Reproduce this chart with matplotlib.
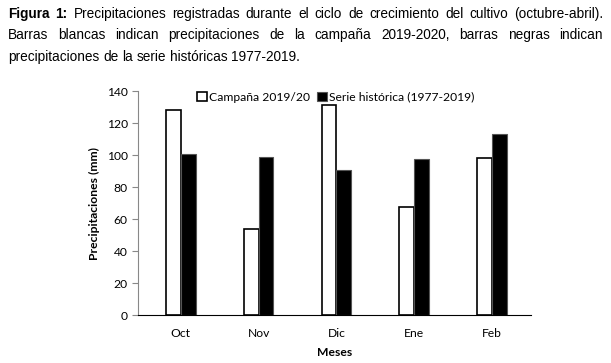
import matplotlib.pyplot as plt
import numpy as np

# Data
meses = ["Oct", "Nov", "Dic", "Ene", "Feb"]
campana = [128, 53.5, 131.5, 67.5, 98.5]
historica = [100.5, 99, 91, 97.5, 113]

caption_lines = [
    "Precipitaciones registradas durante el ciclo de crecimiento del cultivo (octubre-abril).",
    "Barras blancas indican precipitaciones de la campaña 2019-2020, barras negras indican",
    "precipitaciones de la serie históricas 1977-2019.",
]

fig = plt.figure(figsize=(6.11, 3.63), dpi=100)
ax = fig.add_axes([0.226, 0.132, 0.643, 0.617])

x = np.arange(len(meses))
w = 0.19
ax.bar(x - w / 2, campana, w, color="white", edgecolor="black", linewidth=1.2,
       label="Campaña 2019/20")
ax.bar(x + w / 2, historica, w, color="black", edgecolor="#555555", linewidth=0.8,
       label="Serie histórica (1977-2019)")

chart_font = "Lato"
fs = 8.7
ax.set_xlim(-0.55, 4.5)
ax.set_ylim(0, 140)
ax.set_yticks(range(0, 141, 20))
ax.set_xticks(x)
ax.set_xticklabels(meses, fontsize=fs, family=chart_font)
ax.tick_params(axis="x", length=0, pad=9)
ax.tick_params(axis="y", length=4, direction="out", color="#888888", labelsize=fs)
for t in ax.get_yticklabels():
    t.set_family(chart_font)
ax.spines["top"].set_visible(False)
ax.spines["right"].set_visible(False)
ax.spines["left"].set_color("#888888")
ax.spines["bottom"].set_color("black")
ax.set_ylabel("Precipitaciones (mm)", fontsize=fs, fontweight="bold", family=chart_font,
              labelpad=5)
ax.set_xlabel("Meses", fontsize=fs, fontweight="bold", family=chart_font, labelpad=6)

ax.legend(loc="center left", bbox_to_anchor=(0.15, 0.973), ncol=2, frameon=False,
          prop={"family": chart_font, "size": fs}, handlelength=0.8, handleheight=0.8,
          handletextpad=0.2, columnspacing=0.6, borderaxespad=0, borderpad=0)

# Justified caption
fig.canvas.draw()
renderer = fig.canvas.get_renderer()
left_px, right_px = 8, 603
line_y = [14, 35, 57]
cap_font = "Liberation Sans"
cap_size = 9.8


def text_width(s, weight="normal"):
    t = fig.text(0, 0, s, fontsize=cap_size, family=cap_font, fontweight=weight)
    wpx = t.get_window_extent(renderer).width
    t.remove()
    return wpx


H = fig.get_figheight() * fig.dpi
W = fig.get_figwidth() * fig.dpi
for i, line in enumerate(caption_lines):
    words = line.split(" ")
    weights = ["normal"] * len(words)
    if i == 0:
        words = ["Figura", "1:"] + words
        weights = ["bold", "bold"] + weights
    widths = [text_width(wd, wt) for wd, wt in zip(words, weights)]
    if i < len(caption_lines) - 1:
        gap = (right_px - left_px - sum(widths)) / (len(words) - 1)
    else:
        gap = text_width("a b") - text_width("ab")
    xp = left_px
    for wd, wt, wpx in zip(words, weights, widths):
        fig.text(xp / W, 1 - line_y[i] / H, wd, fontsize=cap_size, family=cap_font,
                 fontweight=wt, va="center", ha="left")
        xp += wpx + gap

fig.savefig("out.png", dpi=100)
